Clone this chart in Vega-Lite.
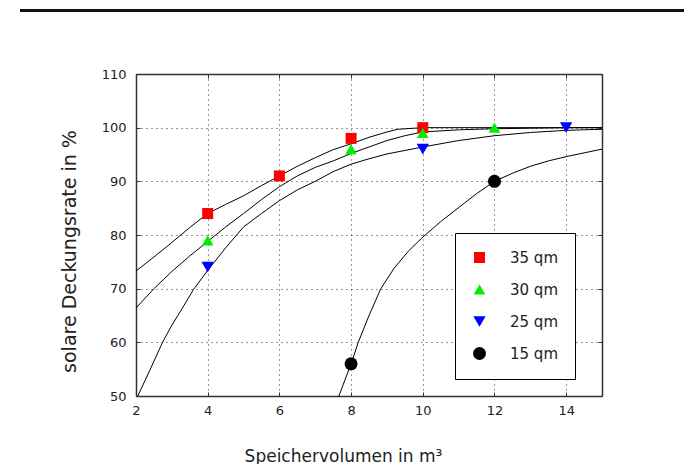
{
  "$schema": "https://vega.github.io/schema/vega-lite/v6.json",
  "autosize": "pad",
  "padding": {"left": 20, "top": 6, "right": 0, "bottom": 0},
  "background": "white",
  "config": {"view": {"stroke": null}, "font": "DejaVu Sans"},
  "bounds": "flush",
  "center": true,
  "spacing": 63,
  "vconcat": [
    {
      "width": 696,
      "height": 1,
      "view": {"stroke": "#111", "strokeWidth": 2},
      "data": {"values": [{"a": 1}]},
      "mark": {"type": "point", "opacity": 0},
      "encoding": {}
    },
    {
      "width": 466,
      "height": 322,
      "data": {
        "values": [
          {"series": "35 qm", "kind": "curve", "x": 2, "y": 73.3},
          {"series": "35 qm", "kind": "curve", "x": 2.5, "y": 75.9},
          {"series": "35 qm", "kind": "curve", "x": 3, "y": 78.6},
          {"series": "35 qm", "kind": "curve", "x": 3.5, "y": 81.4},
          {"series": "35 qm", "kind": "curve", "x": 4, "y": 84},
          {"series": "35 qm", "kind": "curve", "x": 4.5, "y": 85.7},
          {"series": "35 qm", "kind": "curve", "x": 5, "y": 87.3},
          {"series": "35 qm", "kind": "curve", "x": 5.5, "y": 89.2},
          {"series": "35 qm", "kind": "curve", "x": 6, "y": 91},
          {"series": "35 qm", "kind": "curve", "x": 6.5, "y": 92.8},
          {"series": "35 qm", "kind": "curve", "x": 7, "y": 94.4},
          {"series": "35 qm", "kind": "curve", "x": 7.5, "y": 95.9},
          {"series": "35 qm", "kind": "curve", "x": 8, "y": 97},
          {"series": "35 qm", "kind": "curve", "x": 8.5, "y": 98.2},
          {"series": "35 qm", "kind": "curve", "x": 9, "y": 99.2},
          {"series": "35 qm", "kind": "curve", "x": 9.3, "y": 99.7},
          {"series": "35 qm", "kind": "curve", "x": 10, "y": 100},
          {"series": "35 qm", "kind": "curve", "x": 12, "y": 100},
          {"series": "35 qm", "kind": "curve", "x": 15, "y": 100},
          {"series": "30 qm", "kind": "curve", "x": 2, "y": 66.4},
          {"series": "30 qm", "kind": "curve", "x": 2.5, "y": 70.0},
          {"series": "30 qm", "kind": "curve", "x": 3, "y": 73.2},
          {"series": "30 qm", "kind": "curve", "x": 3.5, "y": 76.1},
          {"series": "30 qm", "kind": "curve", "x": 4, "y": 78.8},
          {"series": "30 qm", "kind": "curve", "x": 4.5, "y": 81.5},
          {"series": "30 qm", "kind": "curve", "x": 5, "y": 84.0},
          {"series": "30 qm", "kind": "curve", "x": 5.5, "y": 86.6},
          {"series": "30 qm", "kind": "curve", "x": 6, "y": 89.0},
          {"series": "30 qm", "kind": "curve", "x": 6.5, "y": 91.0},
          {"series": "30 qm", "kind": "curve", "x": 7, "y": 92.6},
          {"series": "30 qm", "kind": "curve", "x": 7.5, "y": 93.8},
          {"series": "30 qm", "kind": "curve", "x": 8, "y": 95.2},
          {"series": "30 qm", "kind": "curve", "x": 8.5, "y": 96.4},
          {"series": "30 qm", "kind": "curve", "x": 9, "y": 97.6},
          {"series": "30 qm", "kind": "curve", "x": 9.5, "y": 98.5},
          {"series": "30 qm", "kind": "curve", "x": 10, "y": 99.2},
          {"series": "30 qm", "kind": "curve", "x": 11, "y": 99.6},
          {"series": "30 qm", "kind": "curve", "x": 12, "y": 99.8},
          {"series": "30 qm", "kind": "curve", "x": 13, "y": 99.9},
          {"series": "30 qm", "kind": "curve", "x": 14, "y": 100},
          {"series": "30 qm", "kind": "curve", "x": 15, "y": 100},
          {"series": "25 qm", "kind": "curve", "x": 2.05, "y": 50},
          {"series": "25 qm", "kind": "curve", "x": 2.4, "y": 55},
          {"series": "25 qm", "kind": "curve", "x": 2.74, "y": 60},
          {"series": "25 qm", "kind": "curve", "x": 3.0, "y": 63.2},
          {"series": "25 qm", "kind": "curve", "x": 3.26, "y": 66},
          {"series": "25 qm", "kind": "curve", "x": 3.6, "y": 69.8},
          {"series": "25 qm", "kind": "curve", "x": 4, "y": 73.4},
          {"series": "25 qm", "kind": "curve", "x": 4.5, "y": 77.6},
          {"series": "25 qm", "kind": "curve", "x": 5, "y": 81.5},
          {"series": "25 qm", "kind": "curve", "x": 5.5, "y": 84.0},
          {"series": "25 qm", "kind": "curve", "x": 6, "y": 86.4},
          {"series": "25 qm", "kind": "curve", "x": 6.5, "y": 88.4},
          {"series": "25 qm", "kind": "curve", "x": 7, "y": 90.0},
          {"series": "25 qm", "kind": "curve", "x": 7.5, "y": 91.8},
          {"series": "25 qm", "kind": "curve", "x": 8, "y": 93.2},
          {"series": "25 qm", "kind": "curve", "x": 8.5, "y": 94.2},
          {"series": "25 qm", "kind": "curve", "x": 9, "y": 95.1},
          {"series": "25 qm", "kind": "curve", "x": 10, "y": 96.4},
          {"series": "25 qm", "kind": "curve", "x": 11, "y": 97.6},
          {"series": "25 qm", "kind": "curve", "x": 12, "y": 98.5},
          {"series": "25 qm", "kind": "curve", "x": 13, "y": 99.1},
          {"series": "25 qm", "kind": "curve", "x": 14, "y": 99.5},
          {"series": "25 qm", "kind": "curve", "x": 15, "y": 99.7},
          {"series": "15 qm", "kind": "curve", "x": 7.66, "y": 50},
          {"series": "15 qm", "kind": "curve", "x": 8, "y": 56},
          {"series": "15 qm", "kind": "curve", "x": 8.2, "y": 60},
          {"series": "15 qm", "kind": "curve", "x": 8.5, "y": 65},
          {"series": "15 qm", "kind": "curve", "x": 8.83, "y": 70},
          {"series": "15 qm", "kind": "curve", "x": 9.2, "y": 73.8},
          {"series": "15 qm", "kind": "curve", "x": 9.6, "y": 77},
          {"series": "15 qm", "kind": "curve", "x": 10, "y": 79.6},
          {"series": "15 qm", "kind": "curve", "x": 10.5, "y": 82.5},
          {"series": "15 qm", "kind": "curve", "x": 11, "y": 85.1},
          {"series": "15 qm", "kind": "curve", "x": 11.5, "y": 87.7},
          {"series": "15 qm", "kind": "curve", "x": 12, "y": 90},
          {"series": "15 qm", "kind": "curve", "x": 12.5, "y": 91.5},
          {"series": "15 qm", "kind": "curve", "x": 13, "y": 92.8},
          {"series": "15 qm", "kind": "curve", "x": 13.5, "y": 93.8},
          {"series": "15 qm", "kind": "curve", "x": 14, "y": 94.6},
          {"series": "15 qm", "kind": "curve", "x": 14.5, "y": 95.3},
          {"series": "15 qm", "kind": "curve", "x": 15, "y": 96},
          {"series": "35 qm", "kind": "point", "x": 4, "y": 84},
          {"series": "35 qm", "kind": "point", "x": 6, "y": 91},
          {"series": "35 qm", "kind": "point", "x": 8, "y": 98},
          {"series": "35 qm", "kind": "point", "x": 10, "y": 100},
          {"series": "30 qm", "kind": "point", "x": 4, "y": 79},
          {"series": "30 qm", "kind": "point", "x": 8, "y": 96},
          {"series": "30 qm", "kind": "point", "x": 10, "y": 99},
          {"series": "30 qm", "kind": "point", "x": 12, "y": 100},
          {"series": "25 qm", "kind": "point", "x": 4, "y": 74},
          {"series": "25 qm", "kind": "point", "x": 10, "y": 96},
          {"series": "25 qm", "kind": "point", "x": 14, "y": 100},
          {"series": "15 qm", "kind": "point", "x": 8, "y": 56},
          {"series": "15 qm", "kind": "point", "x": 12, "y": 90}
        ]
      },
      "layer": [
        {
          "transform": [{"filter": "datum.kind === 'curve'"}],
          "mark": {"type": "line", "color": "black", "strokeWidth": 1},
          "encoding": {
            "x": {
              "field": "x", "type": "quantitative",
              "scale": {"domain": [2, 15], "nice": false, "zero": false},
              "axis": {
                "orient": "bottom", "values": [2, 4, 6, 8, 10, 12, 14],
                "title": "Speichervolumen in m³",
                "grid": true, "gridDash": [1, 4], "gridColor": "#000", "gridOpacity": 0.8,
                "domainColor": "#333", "domainWidth": 1.5, "tickColor": "#333", "tickSize": -4,
                "labelPadding": 12, "labelFontSize": 13, "labelColor": "#222", "labelFlush": false,
                "titleFontSize": 17, "titleFontWeight": "normal", "titleColor": "#222",
                "titleX": 207, "titleY": 65, "titleBaseline": "alphabetic"
              }
            },
            "y": {
              "field": "y", "type": "quantitative",
              "scale": {"domain": [50, 110], "nice": false, "zero": false},
              "axis": {
                "orient": "left", "values": [50, 60, 70, 80, 90, 100, 110],
                "title": "solare Deckungsrate in %",
                "grid": true, "gridDash": [1, 4], "gridColor": "#000", "gridOpacity": 0.8,
                "domainColor": "#333", "domainWidth": 1.5, "tickColor": "#333", "tickSize": -4,
                "labelPadding": 14, "labelFontSize": 13, "labelColor": "#222",
                "titleFontSize": 19, "titleFontWeight": "normal", "titleColor": "#222",
                "titleX": -67, "titleY": 177, "titleBaseline": "middle"
              }
            },
            "detail": {"field": "series"}
          }
        },
        {
          "transform": [{"filter": "datum.kind === 'point'"}],
          "mark": {"type": "point", "filled": true, "opacity": 1, "strokeWidth": 0},
          "encoding": {
            "x": {
              "field": "x", "type": "quantitative",
              "axis": {"orient": "top", "values": [2, 4, 6, 8, 10, 12, 14], "labels": false, "title": null, "grid": false,
                       "domainColor": "#333", "domainWidth": 1.5, "tickColor": "#333", "tickSize": -4}
            },
            "y": {
              "field": "y", "type": "quantitative",
              "axis": {"orient": "right", "values": [50, 60, 70, 80, 90, 100, 110], "labels": false, "title": null, "grid": false,
                       "domainColor": "#333", "domainWidth": 1.5, "tickColor": "#333", "tickSize": -4}
            },
            "color": {
              "field": "series", "type": "nominal",
              "scale": {"domain": ["35 qm", "30 qm", "25 qm", "15 qm"], "range": ["#ff0000", "#00ee00", "#0000ff", "#000000"]},
              "legend": {
                "orient": "none", "legendX": 434, "legendY": 223, "title": null,
                "strokeColor": "#000", "fillColor": "white", "padding": 17, "rowPadding": 16,
                "labelFontSize": 15, "labelOffset": 23, "labelColor": "#222"
              }
            },
            "shape": {
              "field": "series", "type": "nominal",
              "scale": {"domain": ["35 qm", "30 qm", "25 qm", "15 qm"], "range": ["square", "triangle-up", "triangle-down", "circle"]}
            },
            "size": {
              "field": "series", "type": "nominal",
              "scale": {"domain": ["35 qm", "30 qm", "25 qm", "15 qm"], "range": [121, 169, 169, 105]}
            }
          }
        }
      ],
      "resolve": {"axis": {"x": "independent", "y": "independent"}}
    }
  ]
}
